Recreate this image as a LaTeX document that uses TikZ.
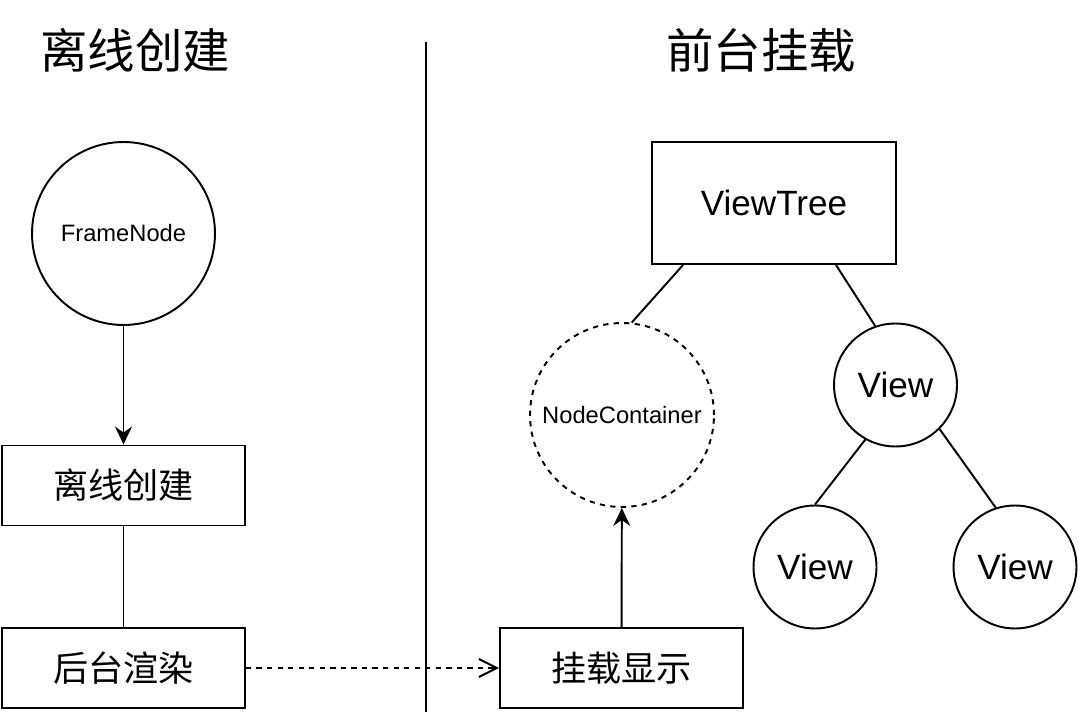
\documentclass[tikz,border=0pt]{standalone}
\usepackage{fontspec}
\setmainfont{Liberation Sans}
\newfontfamily\cjk{Noto Sans CJK SC}
\usetikzlibrary{arrows.meta}

\begin{document}
\begin{tikzpicture}[x=0.02cm, y=-0.02cm, line width=1.1pt]
   \useasboundingbox (0,0) rectangle (1078,712);
   \begin{scope}[every node/.style={font=\cjk\fontsize{27}{32}\selectfont}]
    \node (title1) at (135,50) {离线创建};
    \node (title2) at (761,50) {前台挂载};
   \end{scope}
   \coordinate (sepTop) at (426,42);
   \coordinate (sepBot) at (426,712);
   \draw (sepTop) -- (sepBot);

   \begin{scope}[every node/.style={draw, circle, inner sep=0pt}]
    \node[minimum size=3.66cm, font=\fontsize{13.5}{16}\selectfont] (fn) at (123.5,233.5) {FrameNode};
    \node[minimum size=3.68cm, dashed, font=\fontsize{13.5}{16}\selectfont] (nc) at (622,415) {NodeContainer};
    \node[minimum size=2.46cm, font=\fontsize{20}{24}\selectfont] (v1) at (895.5,385) {View};
    \node[minimum size=2.46cm, font=\fontsize{20}{24}\selectfont] (v2) at (815,567) {View};
    \node[minimum size=2.46cm, font=\fontsize{20}{24}\selectfont] (v3) at (1015,567) {View};
   \end{scope}
   \begin{scope}[every node/.style={draw, minimum width=4.86cm, minimum height=1.6cm, font=\cjk\fontsize{20}{24}\selectfont}]
    \node (b1) at (123.5,485.5) {离线创建};
    \node (b2) at (123.5,668) {后台渲染};
    \node (b3) at (621.5,668) {挂载显示};
   \end{scope}
   \node[draw, minimum width=4.88cm, minimum height=2.44cm, font=\fontsize{20}{24}\selectfont] (vt) at (774,203) {ViewTree};

   \begin{scope}[every edge/.style={draw=black, line width=1.1pt}]
    \draw (fn) edge[-{Stealth[length=3.6mm, width=3.4mm, inset=1.2mm]}] (b1);
    \draw (b1) edge (b2);
    \draw (b2) edge[dashed, -{Straight Barb[length=3.6mm, width=3.6mm]}] (b3);
    \draw (b3) edge[-{Stealth[length=3.6mm, width=3.4mm, inset=1.2mm]}] (nc);
    \draw ([xshift=0.64cm]vt.south west) edge (nc.84);
    \draw ([xshift=-1.22cm]vt.south east) edge (v1.109);
    \draw (v1.241) edge (v2.90);
    \draw (v1.315) edge (v3.108);
   \end{scope}
\end{tikzpicture}
\end{document}
